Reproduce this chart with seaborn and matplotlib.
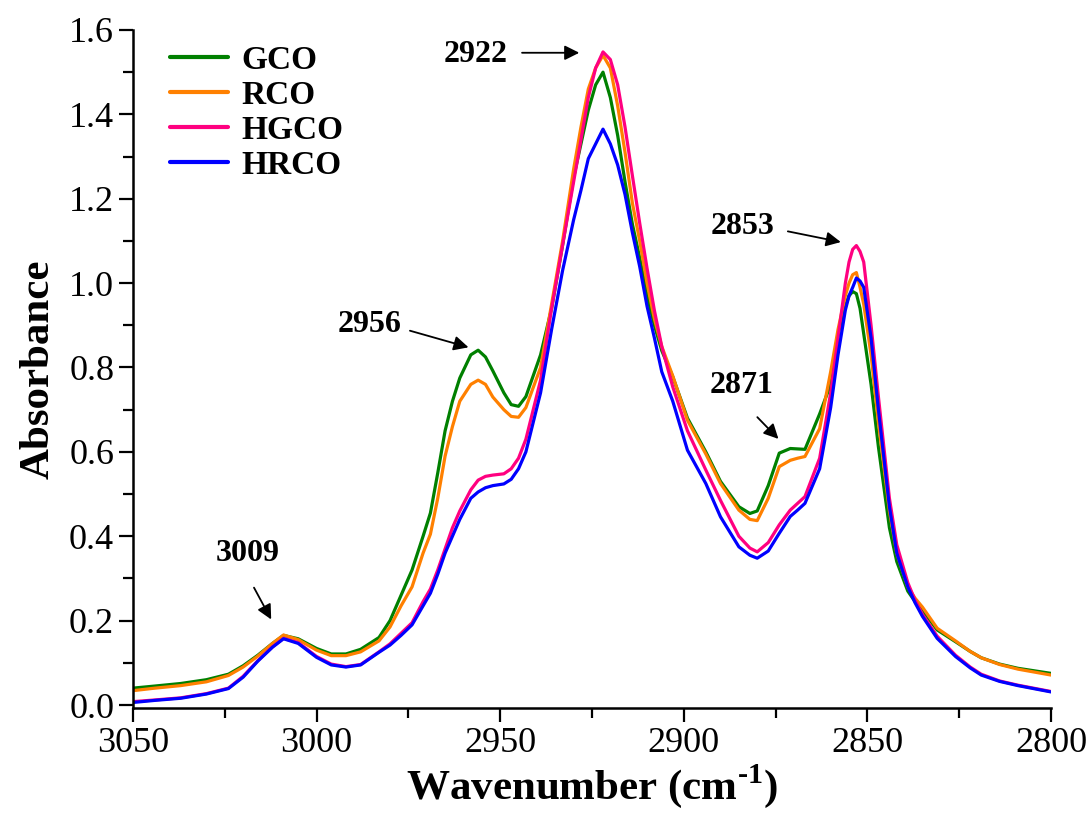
import numpy as np
import pandas as pd
import seaborn as sns
import matplotlib
matplotlib.use("Agg")
import matplotlib.pyplot as plt
from matplotlib.ticker import MultipleLocator, FormatStrFormatter

wavenumber = [3050, 3044, 3037, 3030, 3024, 3020, 3016, 3012, 3009, 3005,
              3000, 2996, 2992, 2988, 2983, 2980, 2977, 2974, 2971, 2969,
              2967, 2965, 2963, 2961, 2958, 2956, 2954, 2952, 2949, 2947,
              2945, 2943, 2939, 2936, 2933, 2930, 2928, 2926, 2924, 2922,
              2920, 2918, 2916, 2914, 2912, 2910, 2908, 2906, 2903, 2899,
              2894, 2890, 2885, 2882, 2880, 2877, 2874, 2871, 2869, 2867,
              2863, 2860, 2858, 2856, 2855, 2854, 2853, 2852, 2851, 2849,
              2847, 2844, 2842, 2839, 2837, 2835, 2831, 2826, 2822, 2819,
              2814, 2809, 2800]

gco = [0.040, 0.045, 0.051, 0.060, 0.073, 0.093, 0.118, 0.146, 0.165, 0.157,
       0.134, 0.121, 0.121, 0.132, 0.160, 0.200, 0.260, 0.320, 0.400, 0.455,
       0.550, 0.650, 0.720, 0.775, 0.830, 0.841, 0.825, 0.792, 0.740, 0.712,
       0.708, 0.731, 0.830, 0.940, 1.090, 1.250, 1.330, 1.410, 1.470, 1.500,
       1.440, 1.350, 1.240, 1.140, 1.060, 0.970, 0.900, 0.840, 0.778, 0.680,
       0.600, 0.530, 0.470, 0.454, 0.460, 0.520, 0.597, 0.608, 0.607, 0.606,
       0.690, 0.760, 0.880, 0.945, 0.970, 0.980, 0.975, 0.940, 0.880, 0.760,
       0.612, 0.420, 0.340, 0.270, 0.245, 0.225, 0.178, 0.150, 0.127, 0.112,
       0.097, 0.087, 0.075]

rco = [0.034, 0.040, 0.046, 0.055, 0.070, 0.090, 0.116, 0.146, 0.166, 0.155,
       0.130, 0.117, 0.117, 0.126, 0.152, 0.185, 0.235, 0.280, 0.360, 0.405,
       0.490, 0.590, 0.660, 0.720, 0.760, 0.770, 0.760, 0.730, 0.700, 0.684,
       0.682, 0.705, 0.800, 0.950, 1.100, 1.270, 1.370, 1.460, 1.510, 1.540,
       1.510, 1.420, 1.310, 1.190, 1.100, 1.000, 0.915, 0.850, 0.780, 0.675,
       0.595, 0.525, 0.462, 0.440, 0.437, 0.490, 0.565, 0.580, 0.585, 0.589,
       0.655, 0.790, 0.890, 0.970, 1.000, 1.020, 1.025, 0.990, 0.950, 0.830,
       0.670, 0.460, 0.360, 0.280, 0.253, 0.232, 0.182, 0.152, 0.127, 0.112,
       0.096, 0.085, 0.071]

hgco = [0.008, 0.012, 0.017, 0.027, 0.040, 0.068, 0.105, 0.138, 0.158, 0.148,
        0.115, 0.097, 0.091, 0.096, 0.126, 0.145, 0.170, 0.195, 0.245, 0.275,
        0.320, 0.370, 0.420, 0.460, 0.510, 0.533, 0.542, 0.545, 0.548, 0.560,
        0.585, 0.630, 0.770, 0.940, 1.090, 1.240, 1.340, 1.440, 1.510, 1.548,
        1.530, 1.470, 1.370, 1.255, 1.142, 1.035, 0.935, 0.850, 0.754, 0.650,
        0.557, 0.485, 0.400, 0.372, 0.363, 0.385, 0.427, 0.462, 0.478, 0.494,
        0.585, 0.740, 0.870, 1.000, 1.050, 1.080, 1.089, 1.075, 1.050, 0.900,
        0.731, 0.490, 0.380, 0.290, 0.248, 0.215, 0.163, 0.118, 0.090, 0.073,
        0.057, 0.047, 0.032]

hrco = [0.006, 0.011, 0.016, 0.026, 0.039, 0.066, 0.104, 0.137, 0.157, 0.146,
        0.113, 0.095, 0.090, 0.095, 0.125, 0.142, 0.165, 0.190, 0.235, 0.265,
        0.310, 0.360, 0.400, 0.440, 0.490, 0.505, 0.515, 0.520, 0.524, 0.535,
        0.560, 0.600, 0.740, 0.890, 1.030, 1.150, 1.220, 1.295, 1.330, 1.365,
        1.330, 1.280, 1.210, 1.120, 1.039, 0.945, 0.870, 0.790, 0.720, 0.604,
        0.525, 0.446, 0.375, 0.355, 0.348, 0.365, 0.407, 0.447, 0.462, 0.478,
        0.560, 0.705, 0.830, 0.936, 0.970, 0.990, 1.012, 1.005, 0.990, 0.870,
        0.700, 0.470, 0.360, 0.280, 0.242, 0.210, 0.158, 0.115, 0.088, 0.071,
        0.056, 0.046, 0.031]

samples = ["GCO", "RCO", "HGCO", "HRCO"]
colors = {"GCO": "#008000", "RCO": "#FF8000", "HGCO": "#FF0080", "HRCO": "#0000FF"}

# picos marcados no gráfico
peak_labels = ["2922", "2956", "3009", "2871", "2853"]

# --- montar DataFrame longo ---
df = pd.concat([
    pd.DataFrame({"Wavenumber": wavenumber, "Absorbance": vals, "Sample": name})
    for name, vals in zip(samples, [gco, rco, hgco, hrco])
], ignore_index=True)

# --- estilo ---
sns.set_style("ticks")
plt.rcParams["font.family"] = ["Liberation Serif", "DejaVu Serif"]
plt.rcParams["mathtext.fontset"] = "custom"
plt.rcParams["mathtext.rm"] = "Liberation Serif:bold"
plt.rcParams["mathtext.bf"] = "Liberation Serif:bold"
for k in ["text.color", "axes.labelcolor", "xtick.color", "ytick.color", "axes.edgecolor"]:
    plt.rcParams[k] = "black"

fig = plt.figure(figsize=(10.89, 8.26), dpi=100)
ax = fig.add_axes([0.1221, 0.1429, 0.843, 0.8208])

sns.lineplot(data=df, x="Wavenumber", y="Absorbance", hue="Sample",
             hue_order=samples, palette=colors, sort=False,
             linewidth=2.3, ax=ax)

ax.set_xlim(3050, 2800)
ax.set_ylim(-0.007, 1.6)
ax.xaxis.set_major_locator(MultipleLocator(50))
ax.xaxis.set_minor_locator(MultipleLocator(25))
ax.yaxis.set_major_locator(MultipleLocator(0.2))
ax.yaxis.set_minor_locator(MultipleLocator(0.1))
ax.yaxis.set_major_formatter(FormatStrFormatter("%.1f"))

ax.tick_params(which="major", length=10, width=1.6, labelsize=26, direction="out")
ax.tick_params(which="minor", length=7, width=1.6, direction="out")
for s in ["left", "bottom"]:
    ax.spines[s].set_linewidth(1.8)
sns.despine(ax=ax)

ax.set_xlabel("Wavenumber (cm$^{\\text{-1}}$)", fontsize=31, fontweight="bold", labelpad=2)
ax.set_ylabel("Absorbance", fontsize=31, fontweight="bold", labelpad=8)

# --- anotações dos picos ---
text_pos = [(2956.8, 1.541), (2985.6, 0.901), (3018.8, 0.360), (2884.2, 0.758), (2884.0, 1.135)]
arrow_tail = [(2944.8, 1.546), (2975.3, 0.889), (3017.4, 0.284), (2880.5, 0.687), (2872.4, 1.124)]
arrow_head = [(2927.7, 1.546), (2957.9, 0.846), (3012.0, 0.197), (2873.7, 0.626), (2856.5, 1.096)]
for lab, tp, t0, t1 in zip(peak_labels, text_pos, arrow_tail, arrow_head):
    ax.text(tp[0], tp[1], lab, fontsize=23, fontweight="bold", ha="center", va="center")
    ax.annotate("", xy=t1, xytext=t0,
                arrowprops=dict(arrowstyle="-|>", color="black", lw=1.3, mutation_scale=22))

leg = ax.legend(loc="upper left", bbox_to_anchor=(0.04, 0.978), frameon=False,
                borderaxespad=0, borderpad=0, handlelength=1.75, handletextpad=0.4,
                labelspacing=0.12, prop={"size": 24, "weight": "bold"})
for line in leg.get_lines():
    line.set_linewidth(3)

fig.savefig("out.png", dpi=100)
